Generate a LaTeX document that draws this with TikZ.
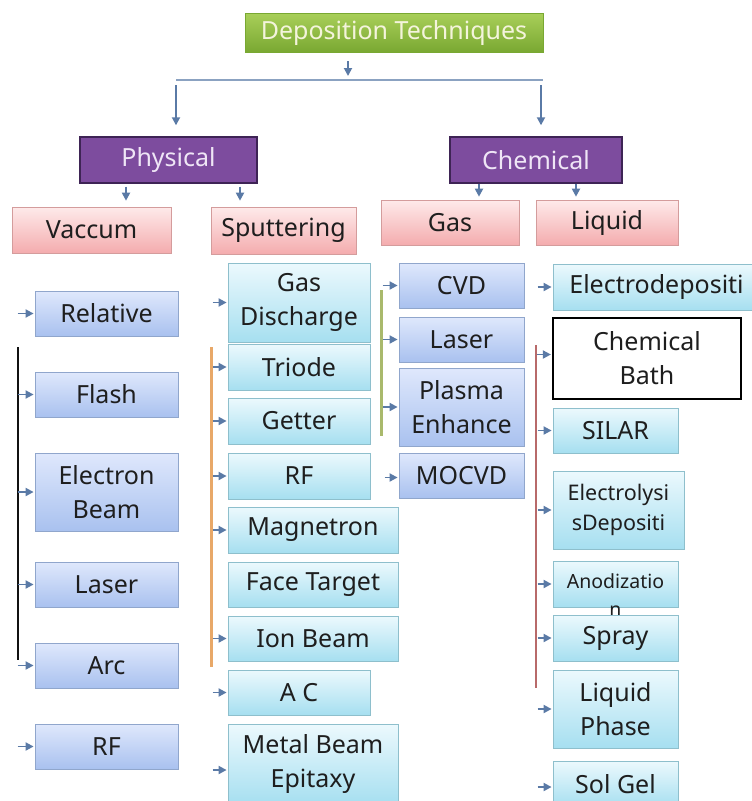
\documentclass[tikz,border=0pt]{standalone}
\usepackage{xcolor}
\usepackage{tikz}
\usepackage{fontspec}
\setmainfont{Noto Sans}
\usetikzlibrary{arrows.meta, positioning, calc}
\definecolor{titlegreenA}{HTML}{A8CE58}
\definecolor{titlegreenB}{HTML}{79A832}
\definecolor{titletext}{HTML}{F4F4DC}
\definecolor{grouppurple}{HTML}{7D4C9E}
\definecolor{groupedge}{HTML}{3E2455}
\definecolor{grouptext}{HTML}{EFE6F6}
\definecolor{pinkA}{HTML}{FEEAEA}
\definecolor{pinkB}{HTML}{F4ACAE}
\definecolor{pinkedge}{HTML}{D49C9C}
\definecolor{blueA}{HTML}{DFE8FC}
\definecolor{blueB}{HTML}{A9C1EF}
\definecolor{blueedge}{HTML}{90A6CC}
\definecolor{cyanA}{HTML}{ECF9FD}
\definecolor{cyanB}{HTML}{A6DFF0}
\definecolor{cyanedge}{HTML}{8EBFCC}
\definecolor{arrowblue}{HTML}{5A7AA6}
\definecolor{inktext}{HTML}{1E1E1E}
\definecolor{vacline}{HTML}{111111}
\definecolor{sputline}{HTML}{E8A868}
\definecolor{gasline}{HTML}{A9B96C}
\definecolor{liqline}{HTML}{B86A6A}
\newcommand{\boxfont}{\fontsize{25}{34}\selectfont}
\newcommand{\smallboxfont}{\fontsize{21.5}{30}\selectfont}
\newcommand{\tinyboxfont}{\fontsize{19.5}{28}\selectfont}

\begin{document}
\begin{tikzpicture}[x=1pt, y=-1pt,
    base/.style={rectangle, inner sep=0pt, align=center, font=\boxfont, text=inktext, line width=0.8pt},
    titlebox/.style={base, top color=titlegreenA, bottom color=titlegreenB, draw=titlegreenB, text=titletext},
    groupbox/.style={base, fill=grouppurple, draw=groupedge, line width=1.4pt, text=grouptext},
    pinkbox/.style={base, top color=pinkA, bottom color=pinkB, draw=pinkedge},
    bluebox/.style={base, top color=blueA, bottom color=blueB, draw=blueedge},
    cyanbox/.style={base, top color=cyanA, bottom color=cyanB, draw=cyanedge},
    plainbox/.style={base, fill=white, draw=black, line width=2.2pt},
    arr/.style={-{Triangle[length=8pt, width=8pt]}, arrowblue, line width=1.8pt, shorten >=1pt},
    trunk/.style={line width=#1, line cap=butt}
]
    \useasboundingbox (0,0) rectangle (752,801);

    % top levels
    \node[titlebox, minimum width=298pt, minimum height=39pt] (title) at (394,33) {Deposition Techniques};
    \node[groupbox, minimum width=177pt, minimum height=46pt] (physical) at (168.5,160) {Physical};
    \node[groupbox, minimum width=172pt, minimum height=46pt] (chemical) at (536,160) {Chemical};

    \node[pinkbox, minimum width=159pt, minimum height=46pt] (vaccum) at (91.5,230) {Vaccum};
    \node[pinkbox, minimum width=145pt, minimum height=47pt] (sputtering) at (283.5,230.5) {Sputtering};
    \node[pinkbox, minimum width=138pt, minimum height=45pt] (gas) at (450,222.5) {Gas};
    \node[pinkbox, minimum width=142pt, minimum height=45pt] (liquid) at (607,222.5) {Liquid};

    \coordinate (t0) at (348,61);
    \coordinate (t1) at (348,77);
    \coordinate (hl) at (176,80);
    \coordinate (hr) at (543,80);
    \coordinate (hl0) at (176,85);
    \coordinate (hr0) at (541,85);
    \draw[arr] (t0) -- (t1);
    \draw[arrowblue!70, line width=1.4pt] (hl) -- (hr);
    \draw[arr] (hl0) -- ([yshift=10pt]physical.north -| hl0);
    \draw[arr] (hr0) -- ([yshift=10pt]chemical.north -| hr0);

    \draw[arr] ([xshift=-42.5pt,yshift=-3pt]physical.south) -- ([xshift=-42.5pt,yshift=-18pt]physical.south);
    \draw[arr] ([xshift=71.5pt,yshift=-3pt]physical.south) -- ([xshift=71.5pt,yshift=-18pt]physical.south);
    \draw[arr] ([xshift=-57pt,yshift=0pt]chemical.south) -- ([xshift=-57pt,yshift=-14pt]chemical.south);
    \draw[arr] ([xshift=40pt,yshift=0pt]chemical.south) -- ([xshift=40pt,yshift=-14pt]chemical.south);

    % vaccum column
    \node[bluebox, minimum width=143pt, minimum height=45pt] (relative) at (106.5,313.5) {Relative};
    \node[bluebox, minimum width=143pt, minimum height=45pt] (flash) at (106.5,394.5) {Flash};
    \node[bluebox, minimum width=143pt, minimum height=78pt] (ebeam) at (106.5,492) {Electron\\Beam};
    \node[bluebox, minimum width=143pt, minimum height=45pt] (vlaser) at (106.5,584.5) {Laser};
    \node[bluebox, minimum width=143pt, minimum height=45pt] (arc) at (106.5,665.5) {Arc};
    \node[bluebox, minimum width=143pt, minimum height=45pt] (vrf) at (106.5,746.5) {RF};

    \coordinate (va) at (18,347);
    \coordinate (vb) at (18,660);
    \draw[vacline, trunk=2.6pt] (va) -- (vb);
    \draw[arr] ([xshift=-17pt]relative.west) -- (relative.west);
    \draw[arr] ([xshift=-17pt]flash.west) -- (flash.west);
    \draw[arr] ([xshift=-17pt]ebeam.west) -- (ebeam.west);
    \draw[arr] ([xshift=-17pt]vlaser.west) -- (vlaser.west);
    \draw[arr] ([xshift=-17pt]arc.west) -- (arc.west);
    \draw[arr] ([xshift=-17pt]vrf.west) -- (vrf.west);

    % sputtering column
    \node[cyanbox, minimum width=142pt, minimum height=79pt] (gasdis) at (299,302.5) {Gas\\Discharge};
    \node[cyanbox, minimum width=142pt, minimum height=46pt] (triode) at (299,367) {Triode};
    \node[cyanbox, minimum width=142pt, minimum height=46pt] (getter) at (299,421) {Getter};
    \node[cyanbox, minimum width=142pt, minimum height=46pt] (srf) at (299,476) {RF};
    \node[cyanbox, minimum width=170pt, minimum height=46pt] (magnetron) at (313,530) {Magnetron};
    \node[cyanbox, minimum width=170pt, minimum height=45pt] (facetarget) at (313,584.5) {Face Target};
    \node[cyanbox, minimum width=170pt, minimum height=45pt] (ionbeam) at (313,638.5) {Ion Beam};
    \node[cyanbox, minimum width=142pt, minimum height=45pt] (ac) at (299,692.5) {A C};
    \node[cyanbox, minimum width=170pt, minimum height=80pt] (mbe) at (313,764) {Metal Beam\\Epitaxy};

    \coordinate (sa) at (211,347);
    \coordinate (sb) at (211,667);
    \draw[sputline, trunk=3pt] (sa) -- (sb);
    \draw[arr] ([xshift=-15pt]gasdis.west) -- (gasdis.west);
    \draw[arr] ([xshift=-15pt]triode.west) -- (triode.west);
    \draw[arr] ([xshift=-15pt]getter.west) -- (getter.west);
    \draw[arr] ([xshift=-15pt]srf.west) -- (srf.west);
    \draw[arr] ([xshift=-15pt]magnetron.west) -- (magnetron.west);
    \draw[arr] ([xshift=-15pt]ionbeam.west) -- (ionbeam.west);
    \draw[arr] ([xshift=-15pt]ac.west) -- (ac.west);
    \draw[arr] ([xshift=-15pt,yshift=-6pt]mbe.west) -- ([yshift=-6pt]mbe.west);

    % gas column
    \node[bluebox, minimum width=125pt, minimum height=45pt] (cvd) at (461.5,285.5) {CVD};
    \node[bluebox, minimum width=125pt, minimum height=45pt] (glaser) at (461.5,339.5) {Laser};
    \node[bluebox, minimum width=125pt, minimum height=78pt] (plasma) at (461.5,407) {Plasma\\Enhance};
    \node[bluebox, minimum width=125pt, minimum height=45pt] (mocvd) at (461.5,475.5) {MOCVD};

    \coordinate (ga) at (381,290);
    \coordinate (gb) at (381,436);
    \draw[gasline, trunk=3pt] (ga) -- (gb);
    \draw[arr] ([xshift=-16pt]cvd.west) -- (cvd.west);
    \draw[arr] ([xshift=-16pt]glaser.west) -- (glaser.west);
    \draw[arr] ([xshift=-16pt]plasma.west) -- (plasma.west);
    \draw[arr] ([xshift=-14pt,yshift=-2pt]mocvd.west) -- ([yshift=-2pt]mocvd.west);

    % liquid column
    \node[cyanbox, minimum width=207pt, minimum height=46pt] (electrodep) at (656.5,287) {Electrodepositi};
    \node[plainbox, minimum width=188pt, minimum height=81pt] (chembath) at (647,358.5) {Chemical\\Bath};
    \node[cyanbox, minimum width=125pt, minimum height=45pt] (silar) at (615.5,430.5) {SILAR};
    \node[cyanbox, minimum width=131pt, minimum height=78pt, font=\smallboxfont] (electrolysis) at (618.5,510) {Electrolysi\\sDepositi};
    \node[cyanbox, minimum width=125pt, minimum height=46pt] (anod) at (615.5,584) {};
    \node[font=\tinyboxfont, text=inktext, align=center, inner sep=0pt] (anodtext) at ([yshift=-11pt]anod.center) {Anodizatio\\n};
    \node[cyanbox, minimum width=125pt, minimum height=46pt] (spray) at (615.5,638) {Spray};
    \node[cyanbox, minimum width=125pt, minimum height=78pt] (liqphase) at (615.5,709) {Liquid\\Phase};
    \node[cyanbox, minimum width=125pt, minimum height=46pt] (solgel) at (615.5,784) {Sol Gel};

    \coordinate (la) at (536,345);
    \coordinate (lb) at (536,688);
    \draw[liqline, trunk=2pt] (la) -- (lb);
    \draw[arr] ([xshift=-15pt]electrodep.west) -- (electrodep.west);
    \draw[arr] ([xshift=-15pt,yshift=4pt]chembath.west) -- ([yshift=4pt]chembath.west);
    \draw[arr] ([xshift=-15pt]silar.west) -- (silar.west);
    \draw[arr] ([xshift=-15pt]electrolysis.west) -- (electrolysis.west);
    \draw[arr] ([xshift=-15pt]anod.west) -- (anod.west);
    \draw[arr] ([xshift=-15pt]spray.west) -- (spray.west);
    \draw[arr] ([xshift=-15pt]liqphase.west) -- (liqphase.west);
    \draw[arr] ([xshift=-15pt,yshift=-3pt]solgel.west) -- ([yshift=-3pt]solgel.west);
\end{tikzpicture}
\end{document}
